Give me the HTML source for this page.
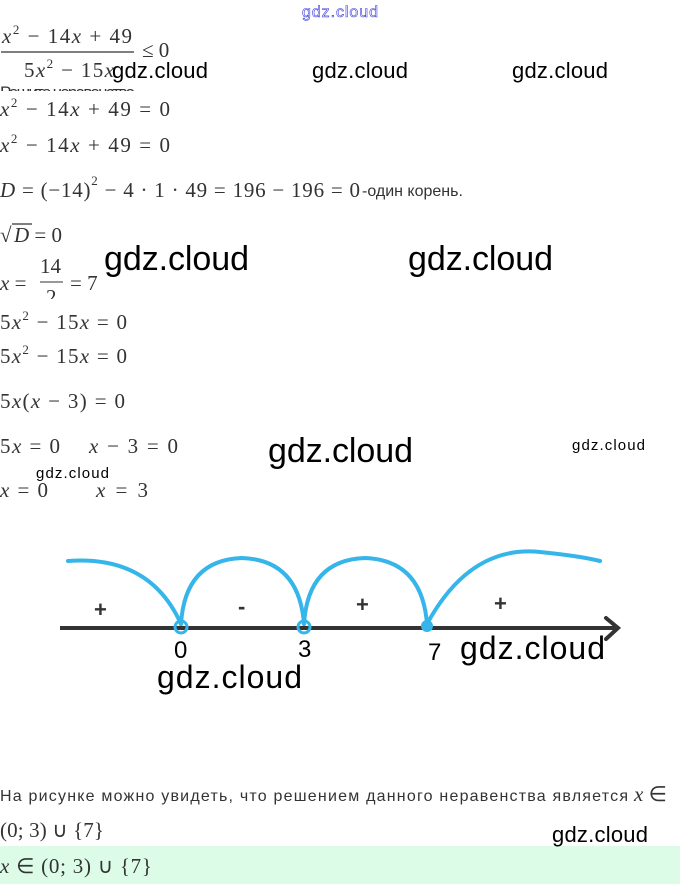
<!DOCTYPE html>
<html><head><meta charset="utf-8"><style>
html,body{margin:0;padding:0;background:#fff;}
svg{display:block;}
.m{font-family:"Liberation Serif",serif;font-size:21px;fill:#333;}
.i{font-style:italic;}
.s{font-family:"Liberation Sans",sans-serif;fill:#333;}
.w{font-family:"Liberation Sans",sans-serif;fill:#000;}
</style></head><body>
<svg width="680" height="884" viewBox="0 0 680 884" xmlns="http://www.w3.org/2000/svg">
<rect x="0" y="846" width="680" height="38" fill="#dcfce8"/>
<text x="302" y="17" font-family="Liberation Sans, sans-serif" font-size="16" fill="#fff" stroke="#3a3adf" stroke-width="0.6" textLength="76">gdz.cloud</text>

<text class="m" x="2" y="43" textLength="130"><tspan class="i">x</tspan><tspan font-size="13" dy="-9">2</tspan><tspan dy="9"> − 14</tspan><tspan class="i">x</tspan> + 49</text>
<line x1="1" y1="52" x2="134" y2="52" stroke="#333" stroke-width="1.2"/>
<text class="m" x="24" y="77" textLength="90">5<tspan class="i">x</tspan><tspan font-size="13" dy="-9">2</tspan><tspan dy="9"> − 15</tspan><tspan class="i">x</tspan></text>
<text class="m" x="142" y="57">≤ 0</text>
<clipPath id="c"><rect x="0" y="80" width="300" height="11"/></clipPath>
<text class="s" x="0" y="98" font-size="17" clip-path="url(#c)" textLength="135">Решите неравенство</text>

<text class="m" x="0" y="116" textLength="170"><tspan class="i">x</tspan><tspan font-size="13" dy="-9">2</tspan><tspan dy="9"> − 14</tspan><tspan class="i">x</tspan> + 49 = 0</text>
<text class="m" x="0" y="152" textLength="170"><tspan class="i">x</tspan><tspan font-size="13" dy="-9">2</tspan><tspan dy="9"> − 14</tspan><tspan class="i">x</tspan> + 49 = 0</text>
<text class="m" x="0" y="197" textLength="360"><tspan class="i">D</tspan> = (−14)<tspan font-size="13" dy="-12">2</tspan><tspan dy="12"> − 4 · 1 · 49 = 196 − 196 = 0</tspan></text>
<text class="s" x="362" y="196" font-size="16">-один корень.</text>
<text class="m" x="0" y="242">√</text>
<line x1="12" y1="224" x2="32" y2="224" stroke="#333" stroke-width="1.2"/>
<text class="m" x="14" y="242"><tspan class="i">D</tspan> = 0</text>

<text class="m" x="0" y="290"><tspan class="i">x</tspan> =</text>
<text class="m" x="40" y="273">14</text>
<line x1="40" y1="282" x2="63" y2="282" stroke="#333" stroke-width="1"/>
<clipPath id="c2"><rect x="0" y="285" width="100" height="14"/></clipPath>
<text class="m" x="46" y="304" clip-path="url(#c2)">2</text>
<text class="m" x="70" y="290">= 7</text>

<text class="m" x="0" y="329" textLength="127">5<tspan class="i">x</tspan><tspan font-size="13" dy="-9">2</tspan><tspan dy="9"> − 15</tspan><tspan class="i">x</tspan> = 0</text>
<text class="m" x="0" y="363" textLength="127">5<tspan class="i">x</tspan><tspan font-size="13" dy="-9">2</tspan><tspan dy="9"> − 15</tspan><tspan class="i">x</tspan> = 0</text>
<text class="m" x="0" y="408" textLength="125">5<tspan class="i">x</tspan>(<tspan class="i">x</tspan> − 3) = 0</text>
<text class="m" x="0" y="453" textLength="60">5<tspan class="i">x</tspan> = 0</text>
<text class="m" x="89" y="453" textLength="89"><tspan class="i">x</tspan> − 3 = 0</text>
<text class="m" x="0" y="497" textLength="48"><tspan class="i">x</tspan> = 0</text>
<text class="m" x="96" y="497" textLength="52"><tspan class="i">x</tspan> = 3</text>

<g fill="none" stroke="#35b5ea" stroke-width="4" stroke-linecap="round">
<path d="M68 561 Q150 555 181 624"/>
<path d="M181 624 Q185 560 242 558 Q299 560 304 624"/>
<path d="M304 624 Q308 560 365 558 Q422 560 427 624"/>
<path d="M427 624 Q470 545 540 552 Q580 556 600 561"/>
</g>
<line x1="60" y1="628" x2="616" y2="628" stroke="#333" stroke-width="4"/>
<path d="M606 618 L618 628 L606 639" fill="none" stroke="#333" stroke-width="4" stroke-linecap="round"/>
<circle cx="181" cy="627" r="6" fill="none" stroke="#35b5ea" stroke-width="3"/>
<circle cx="304" cy="627" r="6" fill="none" stroke="#35b5ea" stroke-width="3"/>
<circle cx="427" cy="626" r="6" fill="#35b5ea"/>
<g class="s" font-size="22" font-weight="bold" fill="#333">
<text x="94" y="617">+</text><text x="238" y="614">-</text><text x="356" y="612">+</text><text x="494" y="611">+</text>
</g>
<g class="w" font-size="24">
<text x="174" y="658">0</text><text x="298" y="657">3</text><text x="428" y="660">7</text>
</g>

<g class="w">
<text x="112" y="78" font-size="22" textLength="96">gdz.cloud</text>
<text x="312" y="78" font-size="22" textLength="96">gdz.cloud</text>
<text x="512" y="78" font-size="22" textLength="96">gdz.cloud</text>
<text x="104" y="270" font-size="34" textLength="145">gdz.cloud</text>
<text x="408" y="270" font-size="34" textLength="145">gdz.cloud</text>
<text x="268" y="462" font-size="34" textLength="145">gdz.cloud</text>
<text x="572" y="450" font-size="15" textLength="73">gdz.cloud</text>
<text x="36" y="478" font-size="15" textLength="73">gdz.cloud</text>
<text x="460" y="659" font-size="32" textLength="145">gdz.cloud</text>
<text x="157" y="688" font-size="32" textLength="145">gdz.cloud</text>
<text x="552" y="842" font-size="22" textLength="96">gdz.cloud</text>
</g>

<text class="s" x="0" y="801" font-size="16" textLength="628">На рисунке можно увидеть, что решением данного неравенства является</text>
<text class="m" x="634" y="801" font-size="19"><tspan class="i">x</tspan> ∈</text>
<text class="m" x="0" y="837" textLength="104">(0; 3) ∪ {7}</text>
<text class="m" x="0" y="873" textLength="152"><tspan class="i">x</tspan> ∈ (0; 3) ∪ {7}</text>
</svg>
</body></html>
